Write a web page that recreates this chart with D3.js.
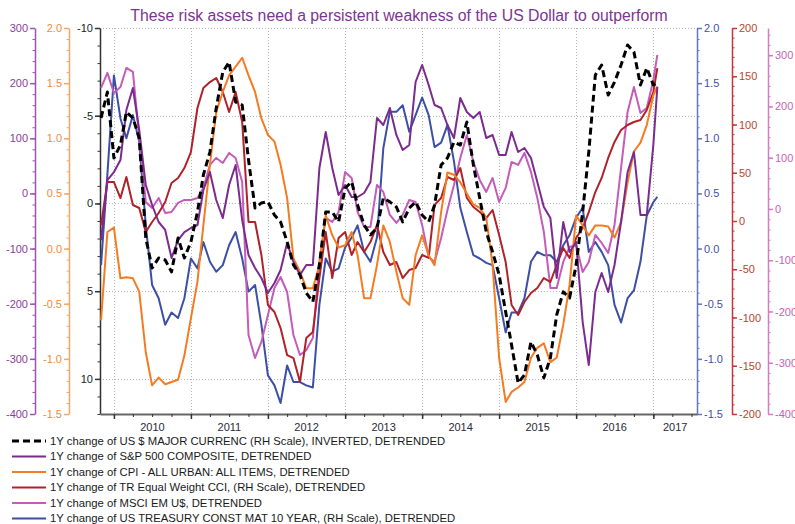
<!DOCTYPE html>
<html>
<head>
<meta charset="utf-8">
<script src="https://cdn.jsdelivr.net/npm/d3@7"></script>
<style>
  body { margin: 0; background: #fff; }
  svg { display: block; font-family: "Liberation Sans", Arial, sans-serif; }
</style>
</head>
<body>
<div id="chart"></div>
<script>
// monthly points, Nov 2009 .. Jan 2017, plus the last weekly print
const dates = d3.timeMonth.range(new Date(2009, 10, 1), new Date(2017, 1, 1)).concat([new Date(2017, 0, 20)]);

// USD majors, 1y change, inverted, detrended (left black scale)
const usd = [-4.87, -6.35,
  -2.59, -3.33, -5.21, -4.87, -3.73, 1.97, 3.68, 3.11, 3.22, 3.9, 1.97, 3.11,
  2.19, 0.48, -1.62, -2.93, -5.44, -7.49, -8.06, -5.78, -5.61, -2.48, 0.26, -0.03,
  -0.09, 0.66, 1.05, 2.19, 3.5, 4.07, 5.1, 5.61, 3.5, 0.48, 0.48, 1.05,
  -0.88, -1.23, 0.09, 1.23, 1.79, 1.4, -0.31, -0.09, 0.2, 1.05, 0.26, -0.09,
  0.66, 1.05, 0.09, -2.19, -2.59, -3.5, -3.33, -4.64, -2.19, -0.31, 1.62, 2.76,
  4.07, 6.18, 8.06, 10.23, 9.77, 7.89, 8.63, 9.94, 8.8, 6.35, 5.04, 5.38,
  3.5, 0.48, -2.93, -7.32, -7.89, -6.18, -6.92, -7.89, -9.03, -8.63, -6.75, -7.72,
  -6.75, -6.87];

// S&P 500 (left purple scale)
const spx = [-84.5, 24.3,
  38.8, 60.6, 151.3, 191.2, 115.0, 15.3, -21.0, -51.8, -66.3, -117.1, -84.5, -70.0,
  -62.7, -57.3, 6.2, 38.8, -11.9, -44.6, 15.3, 51.5, -48.2, -111.7, -135.3, -153.4,
  -180.6, -162.5, -138.9, -89.9, -124.4, -147.9, -129.8, -129.8, 46.1, 111.4, 46.1, -2.9,
  15.3, -6.5, -6.5, 0.8, 20.7, 136.8, 124.1, 154.9, 106.0, 78.7, 87.8, 202.1,
  232.9, 196.6, 160.4, 154.9, 124.1, 100.5, 173.0, 147.7, 136.8, 147.7, 100.5, 106.0,
  69.7, 69.7, 111.4, 75.1, 82.4, 64.2, 20.7, -24.6, -44.6, -153.4, -51.8, -106.2,
  -88.1, -233.2, -311.2, -178.8, -144.3, -178.8, -129.8, -51.8, 38.8, 75.1, -39.1, -39.1,
  87.8, 193.0];

// CPI all urban (left orange scale)
const cpi = [-0.65, 0.15,
  0.19, -0.27, -0.26, -0.27, -0.39, -0.94, -1.24, -1.17, -1.23, -1.21, -1.19, -0.97,
  -0.63, -0.30, 0.21, 0.76, 1.24, 1.42, 1.57, 1.65, 1.73, 1.57, 1.42, 1.18,
  1.03, 0.97, 0.76, 0.46, -0.09, -0.21, -0.36, -0.36, -0.15, 0.30, 0.12, 0.01,
  0.03, 0.15, -0.06, -0.45, -0.45, -0.15, 0.21, 0.06, -0.21, -0.45, -0.51, -0.06,
  0.12, -0.06, -0.15, 0.33, 0.69, 0.67, 0.60, 0.50, 0.40, 0.37, 0.28, -0.15,
  -0.99, -1.39, -1.30, -1.26, -1.21, -0.99, -0.90, -0.86, -1.03, -0.99, -0.69, -0.33,
  0.30, 0.21, 0.12, 0.21, 0.21, 0.20, 0.10, 0.24, 0.60, 0.88, 0.96, 1.12,
  1.39, 1.47];

// TR equal weight CCI (right dark red scale)
const cci = [-4.1, 40.4,
  40.4, 23.8, 45.6, 16.6, 13.5, -11.4, -1.0, 8.3, 19.7, 39.4, 44.6, 54.9,
  71.5, 117.1, 137.8, 144.0, 148.2, 133.7, 113.0, 133.7, 102.6, -1.0, -1.0, -35.2,
  -87.0, -94.3, -110.9, -138.9, -142.0, -166.8, -121.2, -115.0, -59.1, -11.4, -59.1, -17.6,
  -11.4, -35.2, -21.8, -32.1, -21.8, -4.1, -32.1, -45.6, -42.5, -59.1, -50.8, -48.7,
  -35.2, -38.3, 16.6, 23.8, 45.6, 42.5, 54.9, 23.8, 14.5, 9.3, 3.1, 11.4,
  -14.5, -42.5, -87.0, -97.4, -83.9, -74.6, -69.4, -59.1, -63.2, -45.6, -28.0, -38.3,
  -17.6, -7.3, 9.3, 30.0, 44.6, 65.3, 81.9, 94.3, 99.5, 102.6, 104.7, 115.0,
  133.7, 158.5];

// MSCI EM US$ (right pink scale)
const msci = [236.1, 265.4,
  226.3, 238.0, 275.1, 267.3, 138.5, 13.7, 2.0, 21.5, -7.8, -5.9, 11.7, 17.6,
  17.6, 21.5, 41.0, 85.9, 99.5, 89.8, 109.3, 99.5, 52.7, -245.9, -290.7, -259.5,
  -206.8, -154.1, -132.7, -162.0, -245.9, -284.9, -275.1, -251.7, -103.4, -17.6, -25.4, -5.9,
  72.2, 60.5, -5.9, -35.1, -35.1, 46.8, 33.2, -11.7, -27.3, -11.7, 17.6, 13.7,
  -31.2, -93.7, -103.4, -56.6, -2.0, 46.8, 99.5, 144.4, 91.7, 56.6, 33.2, 60.5,
  13.7, 41.0, 91.7, 85.9, 109.3, 72.2, 21.5, -44.9, -154.1, -154.1, -103.4, -74.1,
  -70.2, -122.9, -103.4, -50.7, -66.3, -85.9, -31.2, 80.0, 189.3, 238.0, 187.3, 197.1,
  251.7, 300.5];

// US 10y treasury (right blue scale)
const tsy = [-0.15, 0.67,
  1.57, 1.18, 1.00, 1.21, 0.97, 0.21, -0.33, -0.45, -0.69, -0.58, -0.63, -0.45,
  -0.09, -0.18, 0.06, -0.12, -0.21, -0.15, 0.03, 0.15, -0.09, -0.39, -0.33, -0.69,
  -1.15, -1.24, -1.40, -1.06, -1.21, -1.21, -1.24, -1.26, -0.51, -0.09, -0.21, -0.18,
  0.01, 0.10, 0.21, -0.03, -0.12, 0.10, 0.91, 1.24, 1.24, 1.30, 1.06, 1.21,
  1.37, 1.21, 0.92, 0.96, 1.12, 0.79, 0.37, 0.15, -0.06, -0.09, -0.13, -0.15,
  -0.45, -0.76, -0.58, -0.58, -0.45, -0.12, -0.03, -0.06, -0.06, -0.12, 0.03, 0.12,
  0.28, 0.37, -0.03, 0.06, -0.03, -0.15, -0.51, -0.67, -0.45, -0.38, -0.12, 0.30,
  0.42, 0.47];

const legendLabels = [
  "1Y change of US $ MAJOR CURRENC (RH Scale), INVERTED, DETRENDED",
  "1Y change of S&P 500 COMPOSITE, DETRENDED",
  "1Y change of CPI - ALL URBAN: ALL ITEMS, DETRENDED",
  "1Y change of TR Equal Weight CCI, (RH Scale), DETRENDED",
  "1Y change of MSCI EM U$, DETRENDED",
  "1Y change of US TREASURY CONST MAT 10 YEAR, (RH Scale), DETRENDED"
];
const years = [2010, 2011, 2012, 2013, 2014, 2015, 2016, 2017];

const width = 795, height = 524;
const pTop = 28, pBottom = 414, pLeft = 100, pRight = 697;

const svg = d3.select("#chart").append("svg")
  .attr("width", width).attr("height", height);

const x = d3.scaleTime()
  .domain([new Date(2009, 9, 27), new Date(2017, 6, 27)])
  .range([pLeft, pRight]);

const yUsd = d3.scaleLinear().domain([-10, 12]).range([pTop, pBottom]);
const ySpx = d3.scaleLinear().domain([-400, 300]).range([pBottom, pTop]);
const yCpi = d3.scaleLinear().domain([-1.5, 2]).range([pBottom, pTop]);
const yTsy = d3.scaleLinear().domain([-1.5, 2]).range([pBottom, pTop]);
const yCci = d3.scaleLinear().domain([-200, 200]).range([pBottom, pTop]);
const yMsci = d3.scaleLinear().domain([-400, 353]).range([pBottom, pTop]);

// title
svg.append("text")
  .attr("x", 399).attr("y", 21)
  .attr("text-anchor", "middle")
  .style("font-size", "15.8px")
  .style("fill", "#7b3590")
  .text("These risk assets need a persistent weakness of the US Dollar to outperform");

// grid
const grid = svg.append("g").attr("stroke", "#b5b5b5").attr("stroke-dasharray", "1,2").attr("stroke-width", 1);
grid.selectAll("line.h")
  .data([-10, -5, 0, 5, 10])
  .join("line")
  .attr("class", "h")
  .attr("x1", pLeft).attr("x2", pRight)
  .attr("y1", d => Math.round(yUsd(d)) + 0.5).attr("y2", d => Math.round(yUsd(d)) + 0.5);
grid.selectAll("line.v")
  .data(years.map(yr => new Date(yr, 0, 1)))
  .join("line")
  .attr("class", "v")
  .attr("y1", pTop).attr("y2", pBottom)
  .attr("x1", d => Math.round(x(d)) + 0.5).attr("x2", d => Math.round(x(d)) + 0.5);

// vertical axes
function yAxis(scale, side, xpos, major, minor, fmt, lineColor, textColor) {
  const g = svg.append("g").attr("transform", `translate(${xpos},0)`);
  const mk = side === "left" ? d3.axisLeft : d3.axisRight;
  g.append("g")
    .call(mk(scale).tickValues(minor).tickSize(2.5).tickFormat("").tickSizeOuter(0))
    .call(a => a.selectAll("line").attr("stroke", lineColor))
    .call(a => a.select(".domain").attr("stroke", lineColor).attr("stroke-width", 1.5));
  g.append("g")
    .call(mk(scale).tickValues(major).tickSize(5).tickPadding(2).tickFormat(fmt).tickSizeOuter(0))
    .call(a => a.select(".domain").remove())
    .call(a => a.selectAll("line").attr("stroke", lineColor).attr("stroke-width", 1.5))
    .call(a => a.selectAll("text").style("fill", textColor).style("font-size", "11px")
      .style("font-family", "'Liberation Sans', Arial, sans-serif"));
}
const intFmt = d => String(d);
const oneDec = d => d.toFixed(1);
const steps = (a, b, s) => d3.range(Math.round(a / s), Math.round(b / s) + 1).map(i => +(i * s).toFixed(4));

yAxis(ySpx, "left", 35, steps(-400, 300, 100), steps(-400, 300, 20), intFmt, "#9c55ab", "#8a3d99");
yAxis(yCpi, "left", 69, steps(-1.5, 2, 0.5), steps(-1.5, 2, 0.1), oneDec, "#f8a56a", "#f08a3c");
yAxis(yUsd, "left", 100, steps(-10, 10, 5), steps(-10, 12, 1), intFmt, "#333", "#222");
yAxis(yTsy, "right", 697, steps(-1.5, 2, 0.5), steps(-1.5, 2, 0.1), oneDec, "#6374c4", "#3f50a2");
yAxis(yCci, "right", 732, steps(-200, 200, 50), steps(-200, 200, 10), intFmt, "#c8353a", "#b8452f");
yAxis(yMsci, "right", 768, steps(-400, 300, 100), steps(-400, 340, 20), intFmt, "#d27cc4", "#c463b4");

// x axis
const xg = svg.append("g").attr("transform", `translate(0,${pBottom})`);
xg.append("g")
  .call(d3.axisBottom(x).ticks(d3.timeMonth.every(3)).tickSize(3).tickFormat("").tickSizeOuter(0))
  .call(a => a.selectAll("line").attr("stroke", "#333"))
  .call(a => a.select(".domain").attr("stroke", "#666").attr("stroke-width", 2));
xg.append("g")
  .call(d3.axisBottom(x).tickValues(years.map(yr => new Date(yr, 0, 1))).tickSize(5).tickFormat("").tickSizeOuter(0))
  .call(a => a.select(".domain").remove())
  .call(a => a.selectAll("line").attr("stroke", "#333").attr("stroke-width", 1.5));
xg.selectAll("text.yr")
  .data(years)
  .join("text")
  .attr("class", "yr")
  .attr("x", d => (Math.max(pLeft, x(new Date(d, 0, 1))) + Math.min(pRight, x(new Date(d + 1, 0, 1)))) / 2)
  .attr("y", 17)
  .attr("text-anchor", "middle")
  .style("font-size", "11px")
  .style("fill", "#2a2a3a")
  .text(d => d);

// series
const series = [
  { values: tsy, y: yTsy, color: "#3b4fa6", dash: null, w: 2 },
  { values: msci, y: yMsci, color: "#c55cb9", dash: null, w: 2 },
  { values: cci, y: yCci, color: "#b0222a", dash: null, w: 2 },
  { values: cpi, y: yCpi, color: "#f57b22", dash: null, w: 2 },
  { values: spx, y: ySpx, color: "#7b2b8e", dash: null, w: 2 },
  { values: usd, y: yUsd, color: "#000", dash: "7,4", w: 3 }
];

const plotG = svg.append("g");
series.forEach(s => {
  const line = d3.line()
    .x((d, i) => x(dates[i]))
    .y(d => s.y(d));
  plotG.append("path")
    .datum(s.values)
    .attr("fill", "none")
    .attr("stroke", s.color)
    .attr("stroke-width", s.w)
    .attr("stroke-linejoin", "round")
    .attr("stroke-dasharray", s.dash)
    .attr("d", line);
});

// legend
const legendStyles = [
  { color: "#000", dash: "7,4", w: 3 },
  { color: "#7b2b8e", dash: null, w: 2 },
  { color: "#f57b22", dash: null, w: 2 },
  { color: "#b0222a", dash: null, w: 2 },
  { color: "#c55cb9", dash: null, w: 2 },
  { color: "#3b4fa6", dash: null, w: 2 }
];
const lg = svg.append("g");
const item = lg.selectAll("g")
  .data(legendLabels)
  .join("g")
  .attr("transform", (d, i) => `translate(0,${441 + i * 15.5})`);
item.append("line")
  .attr("x1", 12).attr("x2", 46).attr("y1", 0).attr("y2", 0)
  .attr("stroke", (d, i) => legendStyles[i].color)
  .attr("stroke-width", (d, i) => legendStyles[i].w)
  .attr("stroke-dasharray", (d, i) => legendStyles[i].dash);
item.append("text")
  .attr("x", 50).attr("y", 0).attr("dy", "0.35em")
  .style("font-size", "11.3px")
  .style("fill", "#1a1a1a")
  .text(d => d);
</script>
</body>
</html>
